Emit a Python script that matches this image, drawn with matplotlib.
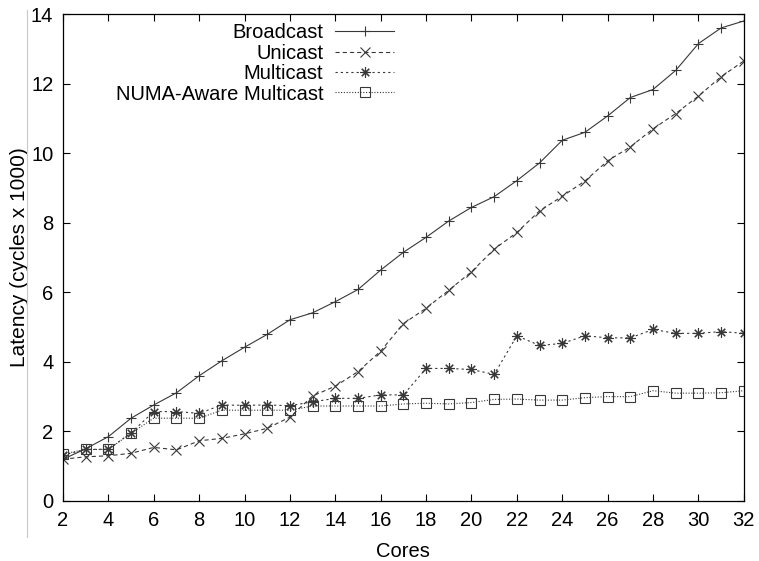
import numpy as np
import matplotlib
matplotlib.use("Agg")
import matplotlib.pyplot as plt
from matplotlib.lines import Line2D

plt.rcParams['font.family'] = ['Liberation Sans', 'DejaVu Sans']
plt.rcParams['lines.scale_dashes'] = False

cores = list(range(2, 33))

broadcast = [1.20, 1.50, 1.85, 2.38, 2.76, 3.11, 3.60, 4.03, 4.42, 4.79, 5.21,
             5.41, 5.73, 6.08, 6.64, 7.15, 7.58, 8.05, 8.44, 8.75, 9.21,
             9.72, 10.37, 10.60, 11.07, 11.60, 11.83, 12.38, 13.15, 13.60, 13.80]
unicast = [1.20, 1.27, 1.30, 1.37, 1.54, 1.47, 1.73, 1.80, 1.93, 2.09, 2.41,
           3.02, 3.30, 3.72, 4.31, 5.10, 5.54, 6.06, 6.59, 7.24, 7.72,
           8.34, 8.76, 9.20, 9.78, 10.18, 10.70, 11.14, 11.64, 12.20, 12.65]
multicast = [1.32, 1.48, 1.49, 1.96, 2.57, 2.57, 2.52, 2.76, 2.75, 2.76, 2.74,
             2.85, 2.95, 2.95, 3.05, 3.05, 3.81, 3.81, 3.78, 3.64, 4.75,
             4.47, 4.53, 4.75, 4.69, 4.69, 4.93, 4.82, 4.82, 4.87, 4.82]
numa_multicast = [1.35, 1.48, 1.48, 1.95, 2.38, 2.38, 2.38, 2.61, 2.61, 2.61, 2.61,
                  2.73, 2.73, 2.73, 2.73, 2.79, 2.81, 2.79, 2.83, 2.92, 2.93,
                  2.90, 2.90, 2.97, 3.00, 3.00, 3.17, 3.10, 3.10, 3.11, 3.17]

xticks = list(range(2, 33, 2))
yticks = list(range(0, 15, 2))

fig = plt.figure(figsize=(7.59, 5.61), dpi=100)
ax = fig.add_axes([0.083, 0.107, 0.897, 0.868])

lc = '#383838'
lw = 0.8
fs = 14.5
ax.plot(cores, broadcast, color=lc, lw=lw, linestyle='-', marker='+',
        markersize=7, markeredgewidth=0.8, label='Broadcast')
ax.plot(cores, unicast, color=lc, lw=lw, linestyle=(0, (3.0, 2.2)), marker='x',
        markersize=6.5, markeredgewidth=0.8, label='Unicast')
ax.plot(cores, multicast, color=lc, lw=lw, linestyle=(0, (1.6, 2.2)),
        marker=(8, 2, 0), markersize=7.5, markeredgewidth=0.8, label='Multicast')
ax.plot(cores, numa_multicast, color=lc, lw=lw, linestyle=(0, (0.8, 1.2)),
        marker='s', markersize=6.5, markerfacecolor='none', markeredgewidth=0.8,
        label='NUMA-Aware Multicast')

ax.set_xlim(2, 32)
ax.set_ylim(0, 14)
ax.set_xticks(xticks)
ax.set_yticks(yticks)
ax.tick_params(direction='in', top=True, right=True, length=5, width=0.8,
               labelsize=fs, pad=7)
for s in ax.spines.values():
    s.set_linewidth(0.9)

ax.set_xlabel('Cores', fontsize=fs)
ax.set_ylabel('Latency (cycles x 1000)', fontsize=15)
ax.xaxis.set_label_coords(0.5, -0.085)
ax.yaxis.set_label_coords(-0.05, 0.5)

ax.legend(loc='upper right', bbox_to_anchor=(0.486, 0.981), frameon=False,
          markerfirst=False, fontsize=fs, handlelength=2.9, handletextpad=0.6,
          labelspacing=0.07, borderpad=0, borderaxespad=0)

fig.add_artist(Line2D([0.035, 0.035], [0.043, 0.982], color='#c8c8c8', lw=0.8,
                      transform=fig.transFigure))

fig.savefig('out.png', dpi=100)
